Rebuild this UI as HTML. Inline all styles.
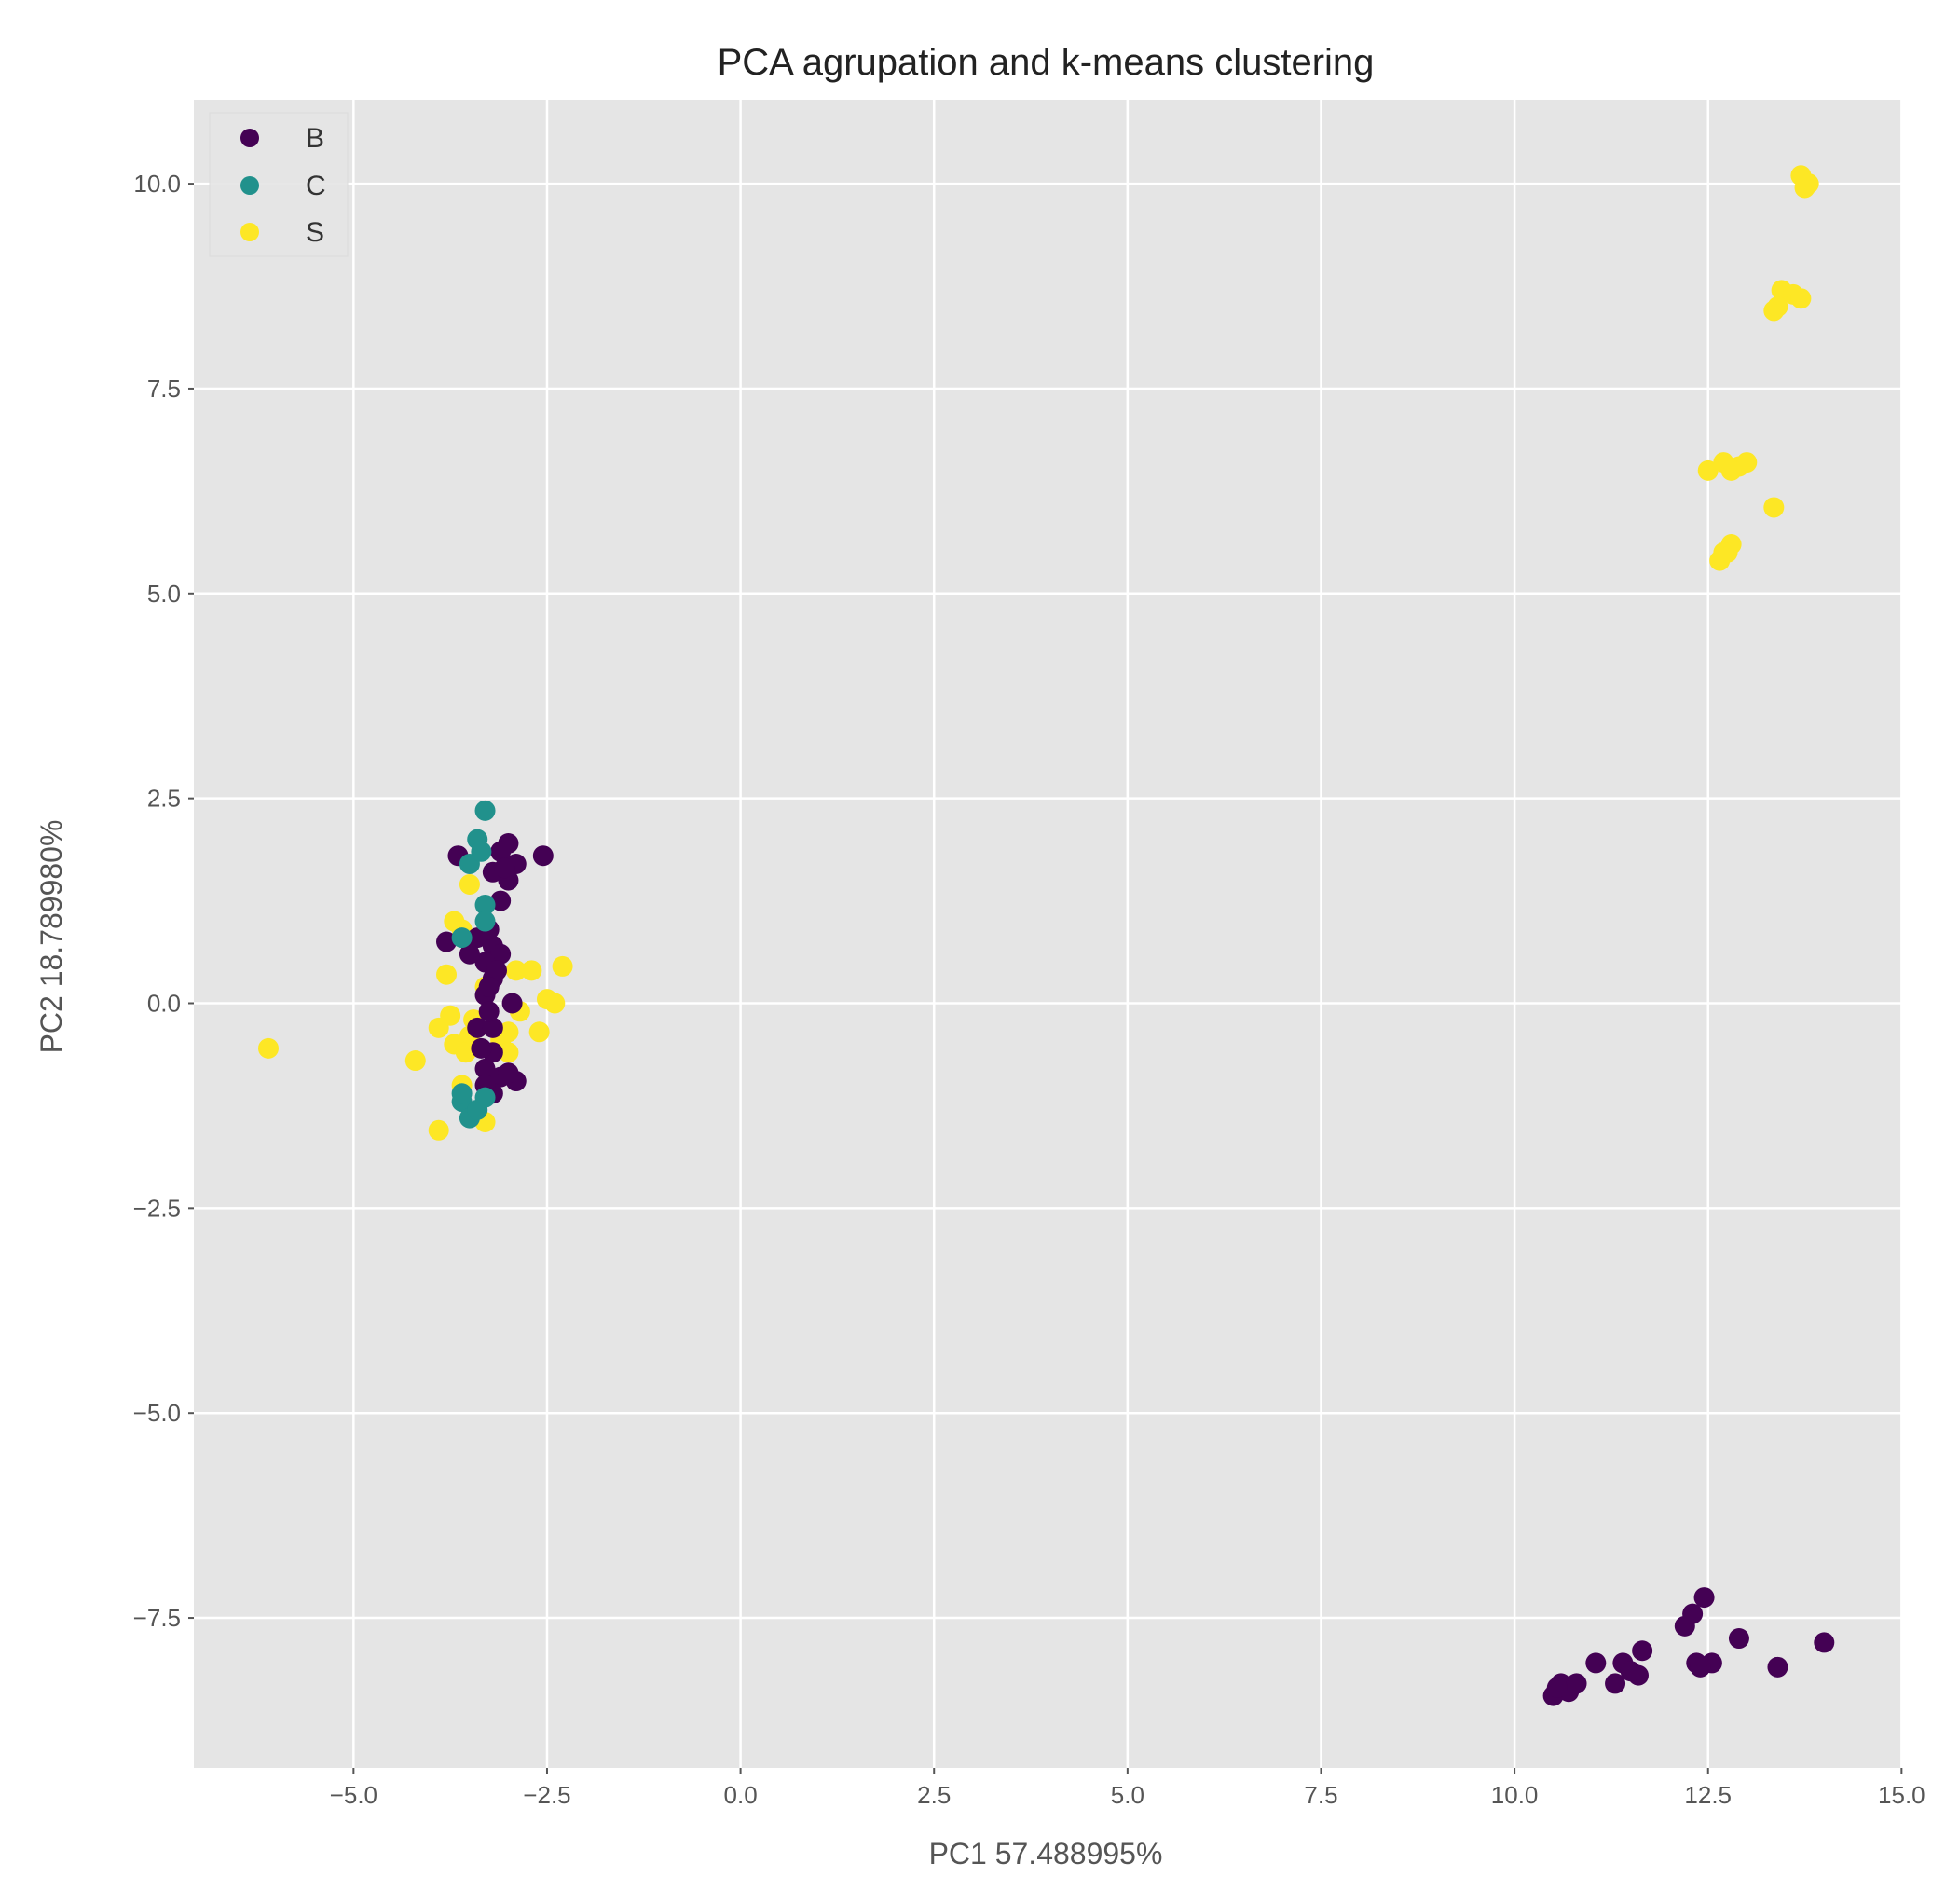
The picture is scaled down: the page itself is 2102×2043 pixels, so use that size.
<!DOCTYPE html>
<html><head><meta charset="utf-8"><style>
html,body{margin:0;padding:0;background:#fff;}
svg{display:block;font-family:"Liberation Sans","DejaVu Sans",sans-serif;}
</style></head><body>
<svg id="chart" width="2102" height="2043">
<text x="1122" y="80" text-anchor="middle" font-size="40" fill="#222">PCA agrupation and k-means clustering</text>
<rect x="208" y="107" width="1832" height="1790" fill="#e5e5e5"/>
<g id="grid"></g><g id="ticks"></g><g id="points"></g>
<text x="1122" y="2000" text-anchor="middle" font-size="32" fill="#555">PC1 57.488995%</text>
<text x="0" y="0" transform="translate(66,1005) rotate(-90)" text-anchor="middle" font-size="32" fill="#555">PC2 18.789980%</text>
<g>
<rect x="225" y="121" width="148" height="154" fill="#e5e5e5" stroke="#dadada" opacity="0.9"/>
<circle cx="268" cy="148" r="10" fill="#440154"/><text x="328" y="158" font-size="30" fill="#333">B</text>
<circle cx="268" cy="199" r="10" fill="#21918c"/><text x="328" y="209" font-size="30" fill="#333">C</text>
<circle cx="268" cy="249" r="10" fill="#fde725"/><text x="328" y="259" font-size="30" fill="#333">S</text>
</g>
</svg>
<script>
const xTicks=[-5,-2.5,0,2.5,5,7.5,10,12.5,15];
const yTicks=[-7.5,-5,-2.5,0,2.5,5,7.5,10];
const sX=[-6.1,-4.2,-3.9,-3.8,-3.7,-3.6,-2.9,-2.7,-2.3,-2.5,-2.4,-2.6,-3.5,-3.9,-3.7,-3.1,-3.0,-3.0,-3.6,-3.3,-3.3,-3.5,-3.45,-2.85,-3.75,-3.55,13.7,13.75,13.8,13.45,13.6,13.7,13.35,13.4,12.5,12.7,12.9,13.0,12.8,13.35,12.8,12.75,12.65,12.7];
const sY=[-0.55,-0.7,-1.55,0.35,1.0,0.9,0.4,0.4,0.45,0.05,0.0,-0.35,-0.4,-0.3,-0.5,-0.45,-0.35,-0.6,-1.0,-1.45,0.2,1.45,-0.2,-0.1,-0.15,-0.6,10.1,9.95,10.0,8.7,8.65,8.6,8.45,8.5,6.5,6.6,6.55,6.6,6.5,6.05,5.6,5.5,5.4,5.5];
const bX=[-3.65,-2.55,-3.0,-3.1,-2.9,-3.0,-3.2,-3.1,-3.8,-3.4,-3.2,-3.1,-3.3,-3.5,-3.2,-3.3,-3.4,-3.2,-2.95,-3.3,-3.1,-2.9,-3.2,-3.0,-3.3,-3.25,-3.15,-3.25,-3.2,-3.05,-3.25,-3.35,10.5,10.6,10.7,10.8,10.55,11.05,11.3,11.4,11.6,11.65,11.5,12.2,12.3,12.45,12.35,12.55,12.4,12.9,13.4,14.0];
const bY=[1.8,1.8,1.95,1.85,1.7,1.5,1.6,1.25,0.75,0.8,0.7,0.6,0.5,0.6,0.3,0.1,-0.3,-0.3,0.0,-0.8,-0.9,-0.95,-1.1,-0.85,-1.0,0.9,0.4,-0.1,-0.6,1.65,0.2,-0.55,-8.45,-8.3,-8.4,-8.3,-8.35,-8.05,-8.3,-8.05,-8.2,-7.9,-8.15,-7.6,-7.45,-7.25,-8.05,-8.05,-8.1,-7.75,-8.1,-7.8];
const cX=[-3.3,-3.4,-3.5,-3.3,-3.3,-3.6,-3.6,-3.5,-3.4,-3.3,-3.6,-3.35];
const cY=[2.35,2.0,1.7,1.2,1.0,0.8,-1.2,-1.4,-1.3,-1.15,-1.1,1.85];
const L=208,R=2040,T=107,B=1897;
const xs=v=>794.6+v*83.05, ys=v=>1076.5-v*87.94;
const NS='http://www.w3.org/2000/svg';
function mk(t,a,p){const e=document.createElementNS(NS,t);for(const k in a)e.setAttribute(k,a[k]);p.appendChild(e);return e;}
const grid=document.getElementById('grid'),ticks=document.getElementById('ticks'),pts=document.getElementById('points');
const fmt=v=>(v<0?'\u2212':'')+Math.abs(v).toFixed(1);
xTicks.forEach(v=>{const x=xs(v);
const g=mk('line',{x1:x,x2:x,y1:T,y2:B,stroke:'#fff','stroke-width':2.5},grid);


mk('line',{x1:x,x2:x,y1:B,y2:B+6,stroke:'#555','stroke-width':2},ticks);
const t=mk('text',{x:x,y:B+38,'text-anchor':'middle','font-size':26,fill:'#555'},ticks);t.textContent=fmt(v);

});
yTicks.forEach(v=>{const y=ys(v);
const g=mk('line',{x1:L,x2:R,y1:y,y2:y,stroke:'#fff','stroke-width':2.5},grid);


mk('line',{x1:L-6,x2:L,y1:y,y2:y,stroke:'#555','stroke-width':2},ticks);
const t=mk('text',{x:L-14,y:y+9,'text-anchor':'end','font-size':26,fill:'#555'},ticks);t.textContent=fmt(v);

});
function series(X,Y,col,name){X.forEach((x,i)=>{const c=mk('circle',{cx:xs(x),cy:ys(Y[i]),r:11,fill:col},pts);

});}
series(sX,sY,'#fde725','point-s');
series(bX,bY,'#440154','point-b');
series(cX,cY,'#21918c','point-c');
</script>
</body></html>
